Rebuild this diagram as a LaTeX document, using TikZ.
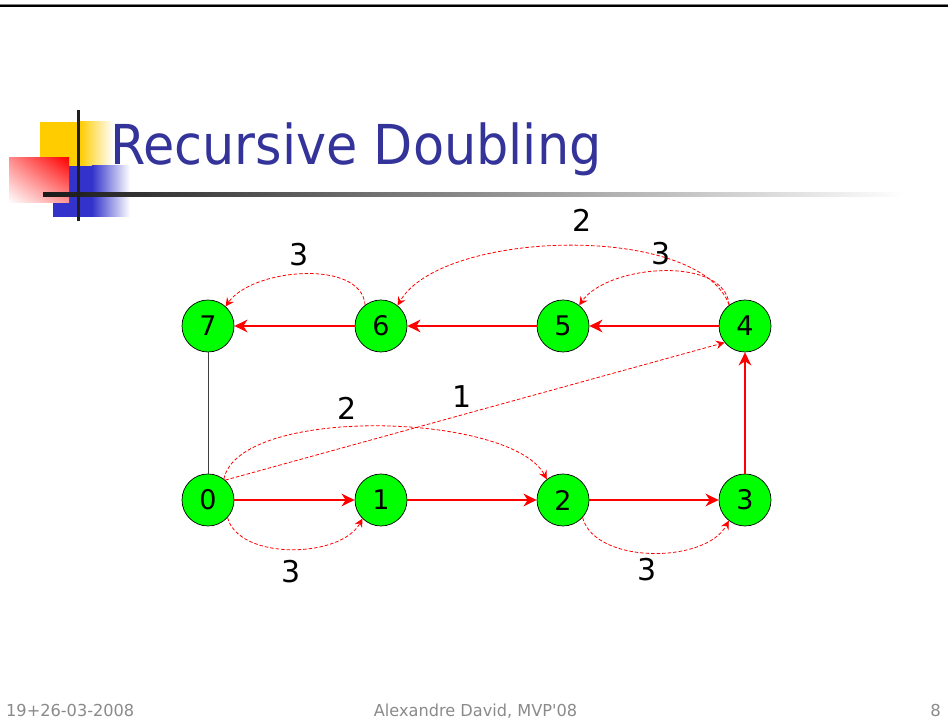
\documentclass[tikz,border=0pt]{standalone}
\usepackage{fontspec}
\setmainfont{DejaVu Sans}
\newfontfamily\footfont[Ligatures=TeXOff]{DejaVu Sans}
\usetikzlibrary{arrows.meta,shadings}
\definecolor{titleblue}{HTML}{333399}
\definecolor{vgreen}{HTML}{00FF00}
\definecolor{logoyellow}{HTML}{FFCC00}
\definecolor{logoblue}{HTML}{3333CC}
\definecolor{footgray}{HTML}{8A8A8A}
\begin{document}
\begin{tikzpicture}[x=1pt,y=1pt,
  vtx/.style={circle,draw=black,line width=0.7pt,fill=vgreen,minimum size=52pt,inner sep=0pt,font=\fontsize{27}{27}\selectfont},
  lbl/.style={inner sep=0pt,font=\fontsize{30}{30}\selectfont},
  footer/.style={inner sep=0pt,text=footgray,font=\footfont\fontsize{16.5}{16.5}\selectfont},
  solidarr/.style={draw=red,line width=2.8pt,-{Stealth[length=13pt,width=12.5pt,inset=4pt]}},
  dasharr/.style={draw=red,line width=0.8pt,dash pattern=on 3.5pt off 2pt,-{Stealth[length=8.5pt,width=8.5pt,inset=3pt]}},
]
\useasboundingbox (0,0) rectangle (948,722);
% top rule
\fill[black!50] (0,716.7) rectangle (948,717.7);
\fill[black] (0,715.3) rectangle (948,716.7);
% logo
\fill[logoyellow] (40,556) rectangle (80,600);
\shade[left color=logoyellow,right color=white] (79.8,556) rectangle (113,600);
\fill[logoblue] (53,505) rectangle (92,556);
\shade[left color=logoblue,right color=white] (91.8,505) rectangle (130,556);
\shade[upper right=red,lower left=white,upper left=red!45!white,lower right=red!40!white] (9,519) rectangle (69,564);
\shade[left color=black!90,middle color=black!60,right color=white] (43,525) rectangle (905,529);
\fill[black!88] (76.5,501) rectangle (80,612);
% title
\node[anchor=base west,inner sep=0pt,text=titleblue,font=\fontsize{55}{55}\selectfont] (title) at (110,557) {\scalebox{0.925}[1]{Recursive Doubling}};
% vertices
\node[vtx] (n7) at (208,396) {7};
\node[vtx] (n6) at (381,396) {6};
\node[vtx] (n5) at (563,396) {5};
\node[vtx] (n4) at (745,396) {4};
\node[vtx] (n0) at (208,222) {0};
\node[vtx] (n1) at (381,222) {1};
\node[vtx] (n2) at (563,222) {2};
\node[vtx] (n3) at (745,222) {3};
% plain link
\draw[black!75,line width=0.8pt] (n7) -- (n0);
% solid ring
\draw[solidarr] (n0) -- (n1);
\draw[solidarr] (n1) -- (n2);
\draw[solidarr] (n2) -- (n3);
\draw[solidarr] (n3) -- (n4);
\draw[solidarr] (n4) -- (n5);
\draw[solidarr] (n5) -- (n6);
\draw[solidarr] (n6) -- (n7);
% dashed steps
\draw[dasharr] (n0.49) -- (n4.219);
\draw[dasharr] (n0.53) to[out=78,in=118,looseness=0.6] (n2.128);
\draw[dasharr] (n4.127) to[out=110,in=60,looseness=0.68] (n6.51);
\draw[dasharr] (n4.127) to[out=95,in=55,looseness=0.85] (n5.52);
\draw[dasharr] (n6.127) to[out=95,in=55,looseness=0.85] (n7.48);
\draw[dasharr] (n0.-42) to[out=-75,in=-118,looseness=0.85] (n1.225);
\draw[dasharr] (n2.-42) to[out=-75,in=-118,looseness=0.85] (n3.232);
% labels
\node[lbl] (l1) at (462.5,325) {1};
\node[lbl] (l2a) at (347.5,314) {2};
\node[lbl] (l2b) at (582.5,502) {2};
\node[lbl] (l3a) at (299,467.5) {3};
\node[lbl] (l3b) at (661.5,468) {3};
\node[lbl] (l3c) at (291.5,150.5) {3};
\node[lbl] (l3d) at (647.5,152) {3};
% footer
\node[footer,anchor=base west] (fdate) at (6,5) {\scalebox{0.98}[1]{19+26-03-2008}};
\node[footer,anchor=base] (fname) at (475.5,5) {\scalebox{0.98}[1]{Alexandre David, MVP'08}};
\node[footer,anchor=base east] (fpage) at (941,5) {8};
\end{tikzpicture}
\end{document}
